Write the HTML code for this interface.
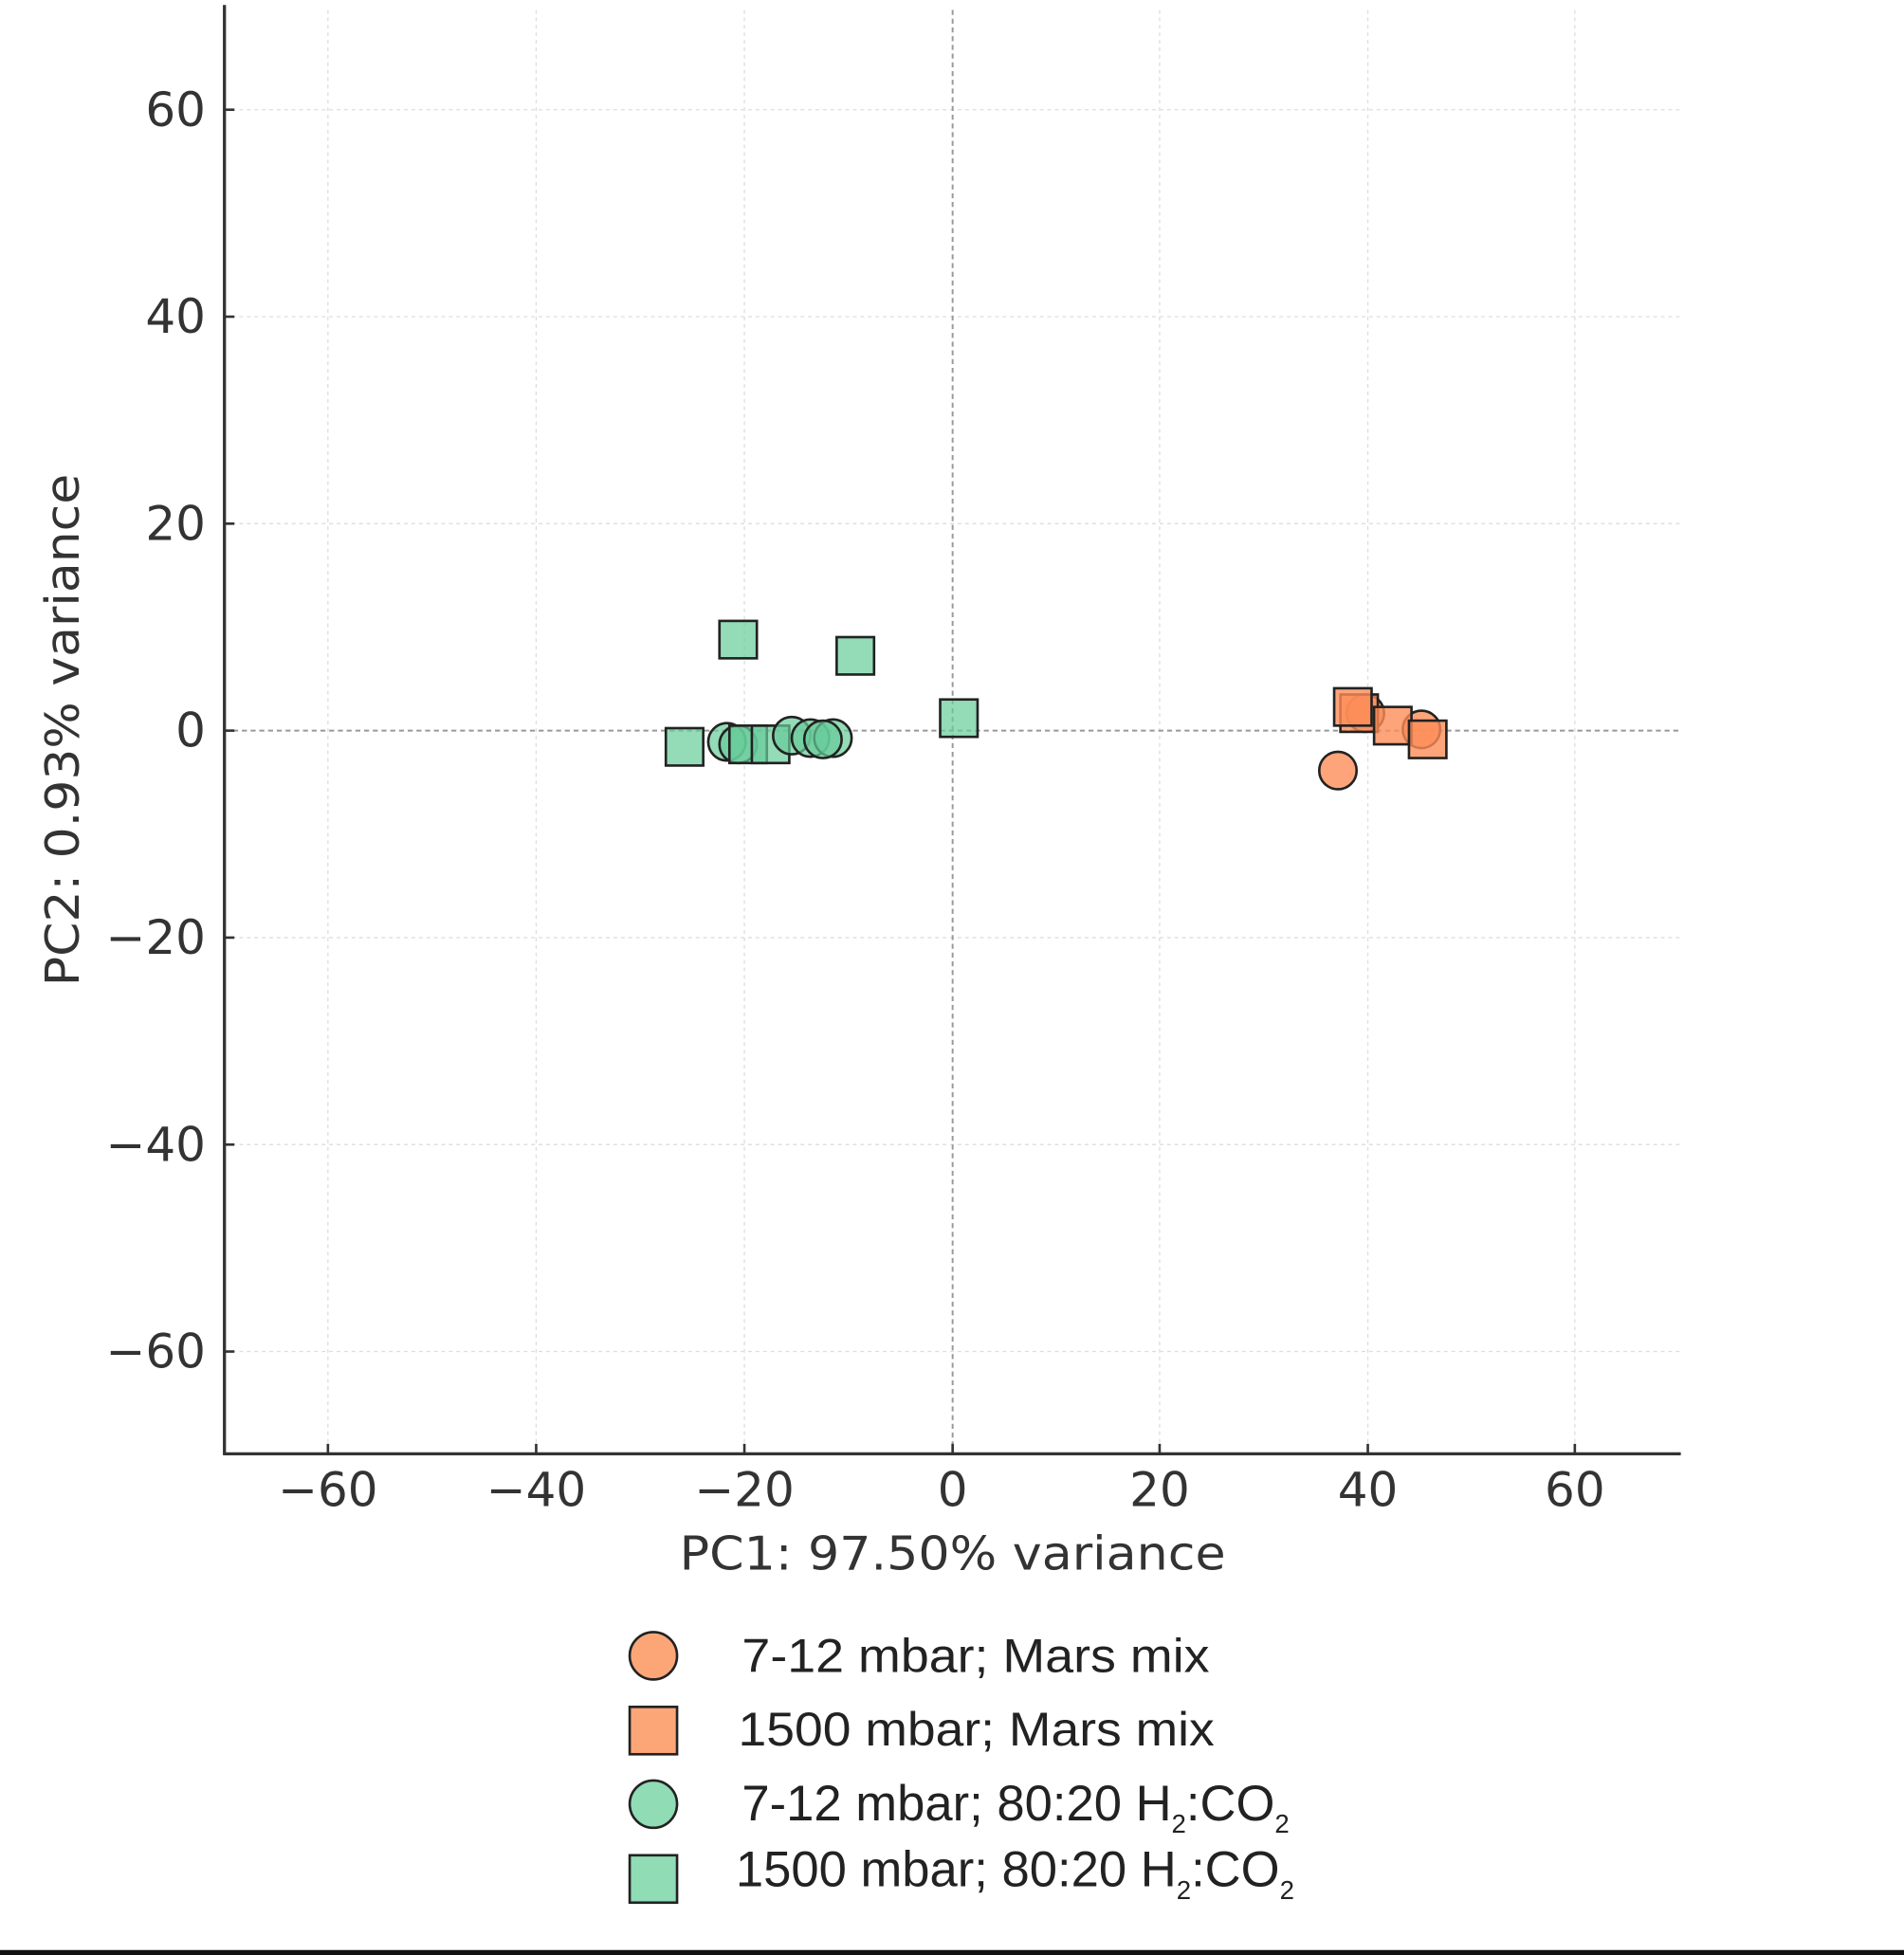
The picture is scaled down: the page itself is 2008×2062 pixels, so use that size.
<!DOCTYPE html>
<html><head><meta charset="utf-8"><style>html,body{margin:0;padding:0;background:#fff}svg{display:block}</style></head>
<body>
<svg width="2008" height="2062" viewBox="0 0 1527 1568" preserveAspectRatio="none" xmlns="http://www.w3.org/2000/svg" font-family="DejaVu Sans, sans-serif">
<rect width="1527" height="1568" fill="#fff"/>
<g stroke="#ddd" stroke-width="1" stroke-dasharray="3,3">
<line x1="263" y1="8" x2="263" y2="1166"/><line x1="430" y1="8" x2="430" y2="1166"/><line x1="597" y1="8" x2="597" y2="1166"/>
<line x1="930" y1="8" x2="930" y2="1166"/><line x1="1097" y1="8" x2="1097" y2="1166"/><line x1="1263" y1="8" x2="1263" y2="1166"/>
<line x1="180" y1="88" x2="1347" y2="88"/><line x1="180" y1="254" x2="1347" y2="254"/><line x1="180" y1="420" x2="1347" y2="420"/>
<line x1="180" y1="752" x2="1347" y2="752"/><line x1="180" y1="918" x2="1347" y2="918"/><line x1="180" y1="1084" x2="1347" y2="1084"/>
</g>
<g stroke="#999" stroke-width="1.5" stroke-dasharray="4,3">
<line x1="764" y1="8" x2="764" y2="1166"/><line x1="180" y1="586" x2="1347" y2="586"/>
</g>
<g stroke="#333" stroke-width="2.5" fill="none">
<line x1="180" y1="4" x2="180" y2="1167"/><line x1="179" y1="1166" x2="1348" y2="1166"/>
</g>
<g stroke="#333" stroke-width="2">
<line x1="263" y1="1166" x2="263" y2="1158"/><line x1="430" y1="1166" x2="430" y2="1158"/><line x1="597" y1="1166" x2="597" y2="1158"/><line x1="764" y1="1166" x2="764" y2="1158"/><line x1="930" y1="1166" x2="930" y2="1158"/><line x1="1097" y1="1166" x2="1097" y2="1158"/><line x1="1263" y1="1166" x2="1263" y2="1158"/>
<line x1="180" y1="88" x2="188" y2="88"/><line x1="180" y1="254" x2="188" y2="254"/><line x1="180" y1="420" x2="188" y2="420"/><line x1="180" y1="586" x2="188" y2="586"/><line x1="180" y1="752" x2="188" y2="752"/><line x1="180" y1="918" x2="188" y2="918"/><line x1="180" y1="1084" x2="188" y2="1084"/>
</g>
<g font-size="38" fill="#333" text-anchor="middle">
<text x="263" y="1208">−60</text><text x="430" y="1208">−40</text><text x="597" y="1208">−20</text><text x="764" y="1208">0</text><text x="930" y="1208">20</text><text x="1097" y="1208">40</text><text x="1263" y="1208">60</text>
</g>
<g font-size="38" fill="#333" text-anchor="end">
<text x="165" y="101">60</text><text x="165" y="267">40</text><text x="165" y="433">20</text><text x="165" y="599">0</text><text x="165" y="765">−20</text><text x="165" y="931">−40</text><text x="165" y="1097">−60</text>
</g>
<text x="545" y="1259" font-size="37" fill="#333" textLength="438" lengthAdjust="spacingAndGlyphs">PC1: 97.50% variance</text>
<text transform="translate(63,791) rotate(-90)" font-size="37" fill="#333" textLength="411" lengthAdjust="spacingAndGlyphs">PC2: 0.93% variance</text>
<g stroke="#222" stroke-width="2" fill="#66cc99" fill-opacity="0.7">
<rect x="577" y="498" width="30" height="30"/><rect x="671" y="511" width="30" height="30"/><rect x="754" y="561" width="30" height="30"/>
<rect x="534" y="584" width="30" height="30"/>
<circle cx="583" cy="595" r="15"/><circle cx="592" cy="597" r="15"/>
<rect x="585" y="582" width="30" height="30"/><rect x="603" y="582" width="30" height="30"/>
<circle cx="635" cy="590" r="15"/><circle cx="650" cy="592" r="15"/><circle cx="668" cy="592" r="15"/><circle cx="660" cy="593" r="15"/>
</g>
<g stroke="#222" stroke-width="2" fill="#fc8d59" fill-opacity="0.8">
<circle cx="1095" cy="572" r="15"/><circle cx="1140" cy="585" r="15"/>
<rect x="1075" y="557" width="30" height="30"/><rect x="1070" y="552" width="30" height="30"/>
<rect x="1102" y="567" width="30" height="30"/><rect x="1130" y="578" width="30" height="30"/>
<circle cx="1073" cy="618" r="15"/>
</g>
<g stroke="#222" stroke-width="2">
<circle cx="524" cy="1328" r="19" fill="#fca678"/>
<rect x="505" y="1369" width="38" height="38" fill="#fca678"/>
<circle cx="524" cy="1447" r="19" fill="#8fdcb5"/>
<rect x="505" y="1488" width="38" height="38" fill="#8fdcb5"/>
</g>
<g font-family="Liberation Sans, sans-serif" font-size="38" fill="#222">
<text x="595" y="1341" textLength="375" lengthAdjust="spacingAndGlyphs">7-12 mbar; Mars mix</text>
<text x="592" y="1400" textLength="382" lengthAdjust="spacingAndGlyphs">1500 mbar; Mars mix</text>
<text x="595" y="1460" font-size="40">7-12 mbar; 80:20 H<tspan font-size="21" dy="10">2</tspan><tspan dy="-10">:CO</tspan><tspan font-size="21" dy="10">2</tspan></text>
<text x="590" y="1513" font-size="40">1500 mbar; 80:20 H<tspan font-size="21" dy="10">2</tspan><tspan dy="-10">:CO</tspan><tspan font-size="21" dy="10">2</tspan></text>
</g>
<rect x="0" y="1564" width="1527" height="4" fill="#111"/>
</svg>
</body></html>
